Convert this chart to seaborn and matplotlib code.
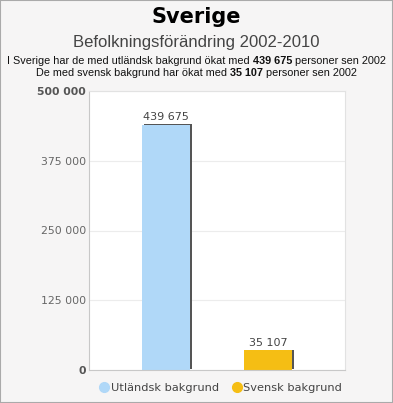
import matplotlib
matplotlib.use('Agg')
import matplotlib.pyplot as plt
import seaborn as sns
import pandas as pd
from matplotlib import patheffects
from matplotlib.offsetbox import TextArea, HPacker, AnchoredOffsetbox
from matplotlib.lines import Line2D

# data
kategorier = ['Utländsk bakgrund', 'Svensk bakgrund']
okning = [439675, 35107]
etiketter = ['439 675', '35 107']
farger = ['#b0d8f8', '#f5be14']
yticks = [0, 125000, 250000, 375000, 500000]
ytick_labels = ['0', '125 000', '250 000', '375 000', '500 000']

sns.set_style('white')
plt.rcParams['font.family'] = ['DejaVu Sans']

df = pd.DataFrame({'kat': kategorier, 'val': okning})

fig = plt.figure(figsize=(3.93, 4.03), dpi=100, facecolor='#f6f5f5')
ax = fig.add_axes([89/393, 1-370/403, 256/393, 279/403])
ax.set_facecolor('white')

sns.barplot(data=df, x='kat', y='val', hue='kat', palette=farger, width=0.47,
            legend=False, ax=ax, saturation=1)
for p in ax.patches:
    p.set_edgecolor('none')
    p.set_path_effects([patheffects.SimplePatchShadow(offset=(1.6, 0.6), shadow_rgbFace='#555555', alpha=1),
                        patheffects.Normal()])

for i, (v, t) in enumerate(zip(okning, etiketter)):
    ax.text(i, v + 4000, t, ha='center', va='bottom', fontsize=8, color='#444444')

ax.set_xlim(-0.755, 1.755)
ax.set_ylim(0, 500000)
ax.set_yticks(yticks)
ax.set_yticklabels(ytick_labels, fontsize=7.8, color='#666666')
for lbl in ax.get_yticklabels():
    if lbl.get_text() in ('0', '500 000'):
        lbl.set_fontweight('bold')
        lbl.set_color('#555555')
ax.tick_params(axis='y', length=0, pad=2)
ax.set_xticks([])
ax.set_xlabel('')
ax.set_ylabel('')
ax.grid(axis='y', color='#ececec', linewidth=0.8)
ax.set_axisbelow(True)
for s in ax.spines.values():
    s.set_color('#e2e2e2')
    s.set_linewidth(0.8)
ax.spines['left'].set_color('#c8c8c8')
ax.spines['bottom'].set_color('#c8c8c8')

# titles
fig.text(0.5, 1-17/403, 'Sverige', ha='center', va='center', fontsize=15, fontweight='bold', color='#000000')
fig.text(0.5, 1-42/403, 'Befolkningsförändring 2002-2010', ha='center', va='center', fontsize=12,
         color='#444444', family='Liberation Sans')

def rad(delar, y):
    boxes = [TextArea(t, textprops=dict(fontsize=7.8, color='#111111', fontweight=w, family='Liberation Sans'))
             for t, w in delar]
    pack = HPacker(children=boxes, align='baseline', pad=0, sep=0)
    ab = AnchoredOffsetbox(loc='center', child=pack, frameon=False,
                           bbox_to_anchor=(0.5, y), bbox_transform=fig.transFigure, borderpad=0, pad=0)
    fig.add_artist(ab)

rad([('I Sverige har de med utländsk bakgrund ökat med ', 'normal'), ('439 675', 'bold'),
     (' personer sen 2002', 'normal')], 1-61/403)
rad([('De med svensk bakgrund har ökat med ', 'normal'), ('35 107', 'bold'),
     (' personer sen 2002', 'normal')], 1-73/403)

handles = [Line2D([], [], marker='o', linestyle='none', markersize=7, markerfacecolor=c,
                  markeredgecolor=c) for c in farger]
fig.legend(handles, kategorier, loc='center', bbox_to_anchor=(221/393, 1-388/403), ncol=2,
           frameon=False, fontsize=8.2, handlelength=0.8, handletextpad=0.15, columnspacing=1.2,
           labelcolor='#444444')

# frame border
fig.patches.append(plt.Rectangle((0, 0), 1, 1, transform=fig.transFigure, fill=False,
                                 edgecolor='#aaaaaa', linewidth=1.5))

fig.savefig('out.png', dpi=100, facecolor=fig.get_facecolor())
